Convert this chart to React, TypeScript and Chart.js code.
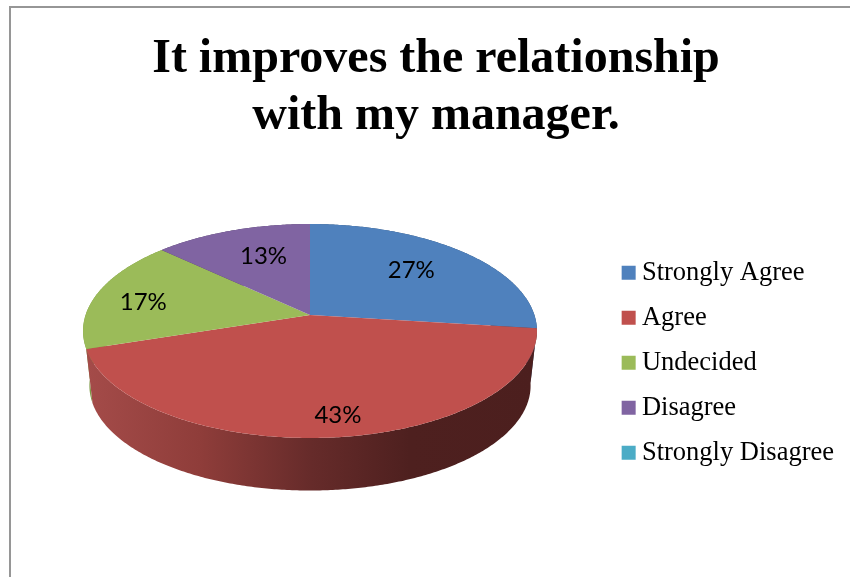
import React, { useEffect, useRef } from "react";
import { Chart, registerables } from "chart.js";

Chart.register(...registerables);

const TITLE_LINES = ["It improves the relationship", "with my manager."];
const CATEGORIES = ["Strongly Agree", "Agree", "Undecided", "Disagree", "Strongly Disagree"];
const VALUES = [27, 43, 17, 13, 0];
const COLORS = ["#4f81bd", "#c0504d", "#9bbb59", "#8064a2", "#4bacc6"];
const WALL_COLORS = ["#2f4d71", "", "#7d9a45", "#4c3c61", "#2d6776"];
const WALL_ORDER = [3, 0, 2, 1];
const LABEL_NUDGES = [[-6, -1], [12, 21], [-21, 2], [9, 1]];

// Oblique view of the disc: projective map from the unit circle to the picture.
const CX = 310, CY = 315, AX = 224.4, BY = 104.6, PERSP = 0.1495;
const DEPTH = 55, BOTTOM_SCALE_X = 0.972, BOTTOM_SCALE_Y = 0.98;

const project = (x: number, y: number, bottom = false) => {
  const s = 1 / (1 - PERSP * y);
  const X = AX * x * s, Y = BY * y * s;
  return bottom
    ? [CX + X * BOTTOM_SCALE_X, CY + Y * BOTTOM_SCALE_Y + DEPTH]
    : [CX + X, CY + Y];
};

const arcPoints = (a0: number, a1: number, bottom = false) => {
  const n = Math.max(2, Math.ceil((a1 - a0) / 0.01));
  const pts: number[][] = [];
  for (let i = 0; i <= n; i++) {
    const a = a0 + ((a1 - a0) * i) / n;
    pts.push(project(Math.cos(a), Math.sin(a), bottom));
  }
  return pts;
};

const pie3d = {
  id: "pie3d",
  beforeDatasetsDraw(chart: any) {
    const ctx = chart.ctx as CanvasRenderingContext2D;
    const arcs = chart.getDatasetMeta(0).data as any[];
    ctx.save();
    for (const i of WALL_ORDER) {
      const el = arcs[i];
      if (!VALUES[i]) continue;
      const top = arcPoints(el.startAngle, el.endAngle);
      const bot = arcPoints(el.startAngle, el.endAngle, true).reverse();
      ctx.beginPath();
      [...top, ...bot].forEach(([x, y], k) => (k ? ctx.lineTo(x, y) : ctx.moveTo(x, y)));
      ctx.closePath();
      let fill: any = WALL_COLORS[i];
      if (!fill) {
        const g = ctx.createLinearGradient(88, 0, 535, 0);
        g.addColorStop(0, "#a44b49");
        g.addColorStop(0.25, "#8f3d3a");
        g.addColorStop(0.5, "#662b2a");
        g.addColorStop(0.72, "#4e201f");
        g.addColorStop(1, "#4c1f1e");
        fill = g;
      }
      ctx.fillStyle = fill;
      ctx.fill();
    }
    for (let i = 0; i < arcs.length; i++) {
      const el = arcs[i];
      if (!VALUES[i]) continue;
      const pts = arcPoints(el.startAngle, el.endAngle);
      ctx.beginPath();
      ctx.moveTo(CX, CY);
      pts.forEach(([x, y]) => ctx.lineTo(x, y));
      ctx.closePath();
      ctx.fillStyle = el.options.backgroundColor;
      ctx.fill();
    }
    ctx.restore();
    return false;
  },
  afterDraw(chart: any) {
    const ctx = chart.ctx as CanvasRenderingContext2D;
    const arcs = chart.getDatasetMeta(0).data as any[];
    ctx.save();
    ctx.fillStyle = "#000";
    ctx.font = '24px Lato';
    ctx.textAlign = "center";
    ctx.textBaseline = "middle";
    arcs.forEach((el, i) => {
      if (!VALUES[i]) return;
      const mid = (el.startAngle + el.endAngle) / 2;
      const [x, y] = project(0.68 * Math.cos(mid), 0.68 * Math.sin(mid));
      ctx.fillText(`${VALUES[i]}%`, x + LABEL_NUDGES[i][0], y + LABEL_NUDGES[i][1]);
    });
    ctx.restore();
  },
};

export default function App() {
  const ref = useRef<HTMLCanvasElement>(null);
  useEffect(() => {
    const chart = new Chart(ref.current!, {
      type: "pie",
      data: {
        labels: CATEGORIES,
        datasets: [{ data: VALUES, backgroundColor: COLORS, borderWidth: 0 }],
      },
      plugins: [pie3d],
      options: {
        animation: false,
        responsive: false,
        layout: { padding: { left: 28, right: 6, top: 0, bottom: 0 } },
        plugins: {
          tooltip: { enabled: false },
          title: {
            display: true,
            text: TITLE_LINES,
            color: "#000",
            font: { family: '"Liberation Serif"', size: 48, weight: "bold", lineHeight: 1.17 },
            padding: { top: 32, bottom: 4 },
          },
          legend: {
            display: true,
            position: "right",
            fullSize: false,
            labels: {
              color: "#000",
              font: { family: '"Liberation Serif"', size: 26.5 },
              usePointStyle: true,
              pointStyle: "rect",
              boxWidth: 0.01,
              boxHeight: 14,
              padding: 18.5,
            },
          },
        },
      },
    } as any);
    return () => chart.destroy();
  }, []);
  return (
    <div style={{ position: "fixed", left: 0, top: 0, width: 850, height: 577, background: "#fff", overflow: "hidden" }}>
      <canvas ref={ref} width={850} height={577} style={{ display: "block" }} />
      <div style={{ position: "absolute", left: 9, top: 6, width: 841, height: 571, boxSizing: "border-box", borderTop: "2px solid #969696", borderLeft: "2px solid #969696" }} />
    </div>
  );
}
